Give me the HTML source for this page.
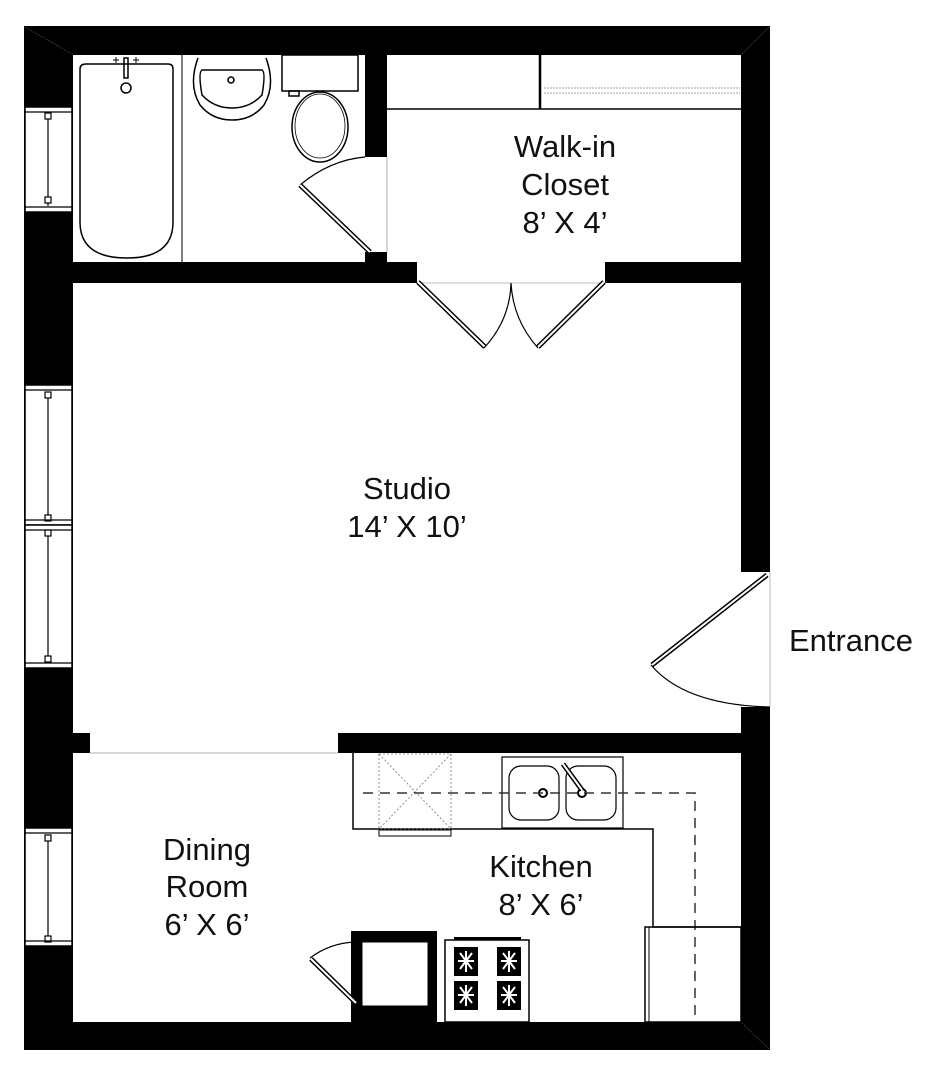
<!DOCTYPE html>
<html><head><meta charset="utf-8"><style>
html,body{margin:0;padding:0;background:#fff;}
svg{display:block;}
text{font-family:"Liberation Sans",Arial,sans-serif;font-size:31px;fill:#111;text-anchor:middle;}
</style></head><body>
<svg width="934" height="1080" viewBox="0 0 934 1080" xmlns="http://www.w3.org/2000/svg">
<rect width="934" height="1080" fill="#fff"/>
<g fill="#000">
<rect x="24" y="26" width="746" height="29"/>
<rect x="24" y="1022" width="746" height="28"/>
<rect x="24" y="26" width="49" height="1024"/>
<rect x="741" y="26" width="29" height="546"/>
<rect x="741" y="707" width="29" height="343"/>
<rect x="365" y="55" width="22" height="102"/>
<rect x="365" y="252" width="22" height="12"/>
<rect x="73" y="262" width="344" height="21"/>
<rect x="605" y="262" width="136" height="21"/>
<rect x="73" y="733" width="17" height="20"/>
<rect x="338" y="733" width="403" height="20"/>
</g>
<g fill="#fff" stroke="#000" stroke-width="1.5">
<rect x="25" y="107" width="47" height="105"/>
<rect x="25" y="385" width="47" height="140"/>
<rect x="25" y="525" width="47" height="143"/>
<rect x="25" y="828" width="47" height="118"/>
</g>
<g stroke="#000" stroke-width="1.2" fill="#fff">
<line x1="48" y1="113" x2="48" y2="206"/><rect x="45" y="113" width="6" height="6"/><rect x="45" y="197" width="6" height="6"/>
<line x1="25" y1="112" x2="72" y2="112"/><line x1="25" y1="207" x2="72" y2="207"/>
<line x1="48" y1="392" x2="48" y2="518"/><rect x="45" y="392" width="6" height="6"/><rect x="45" y="515" width="6" height="6"/>
<line x1="48" y1="532" x2="48" y2="661"/><rect x="45" y="530" width="6" height="6"/><rect x="45" y="656" width="6" height="6"/>
<line x1="25" y1="390" x2="72" y2="390"/><line x1="25" y1="520" x2="72" y2="520"/><line x1="25" y1="530" x2="72" y2="530"/><line x1="25" y1="663" x2="72" y2="663"/>
<line x1="48" y1="835" x2="48" y2="940"/><rect x="45" y="835" width="6" height="6"/><rect x="45" y="936" width="6" height="6"/>
<line x1="25" y1="833" x2="72" y2="833"/><line x1="25" y1="941" x2="72" y2="941"/>
</g>
<g stroke="#555" stroke-width="0.6" stroke-dasharray="2,1"><line x1="25" y1="27" x2="72" y2="54"/><line x1="769" y1="27" x2="742" y2="54"/><line x1="769" y1="1049" x2="742" y2="1023"/></g>
<g fill="none" stroke="#000" stroke-width="1.5">
<path d="M86 64 H168 Q173 64 173 69 V222 Q173 258 127 258 Q80 258 80 222 V69 Q80 64 86 64 Z"/>
<circle cx="126" cy="88" r="5"/>
<rect x="124" y="58" width="4" height="20"/>
<path d="M113 60 H119 M116 57 V63 M133 60 H139 M136 57 V63" stroke-width="1"/>
<line x1="182" y1="55" x2="182" y2="262" stroke-width="1"/>
<path d="M198 58 Q188 85 200 105 Q212 120 232 120 Q252 120 264 105 Q276 85 266 58"/>
<path d="M202 70 H262 Q266 72 262 95 Q250 108 232 108 Q214 108 202 95 Q198 72 202 70 Z"/>
<circle cx="231" cy="80" r="3"/>
<rect x="282" y="55" width="76" height="36"/>
<ellipse cx="320" cy="127" rx="28" ry="35"/><ellipse cx="320" cy="126" rx="25" ry="32" stroke-width="0.8"/>
<rect x="289" y="91" width="10" height="5"/>
</g>
<g stroke="#000" fill="none">
<path d="M300 185 Q330 160 365 157" stroke-width="1.2"/>
<line x1="300" y1="185" x2="370" y2="252" stroke-width="5"/><line x1="300" y1="185" x2="370" y2="252" stroke="#fff" stroke-width="2"/>
<line x1="387" y1="157" x2="387" y2="252" stroke="#999" stroke-width="0.8"/>
</g>
<g stroke="#000" fill="none">
<line x1="387" y1="109" x2="741" y2="109" stroke-width="1.5"/>
<line x1="540" y1="55" x2="540" y2="109" stroke-width="2.5"/>
<line x1="544" y1="88" x2="740" y2="88" stroke="#888" stroke-dasharray="2,1" stroke-width="0.8"/>
<line x1="544" y1="93" x2="740" y2="93" stroke="#888" stroke-dasharray="2,1" stroke-width="0.8"/>
<line x1="417" y1="283" x2="605" y2="283" stroke="#aaa" stroke-width="0.8"/>
</g>
<g stroke="#000" fill="none">
<line x1="418" y1="282" x2="485" y2="347" stroke-width="5"/><line x1="418" y1="282" x2="485" y2="347" stroke="#fff" stroke-width="2"/>
<line x1="604" y1="282" x2="538" y2="347" stroke-width="5"/><line x1="604" y1="282" x2="538" y2="347" stroke="#fff" stroke-width="2"/>
<path d="M484 348 Q510 320 511 283 Q513 320 538 348" stroke-width="1.2"/>
</g>
<g stroke="#000" fill="none">
<line x1="767" y1="575" x2="652" y2="665" stroke-width="5"/><line x1="767" y1="575" x2="652" y2="665" stroke="#fff" stroke-width="2"/>
<path d="M651 665 Q685 705 770 707" stroke-width="1.2"/>
<line x1="770" y1="572" x2="770" y2="707" stroke="#aaa" stroke-width="0.8"/>
</g>
<line x1="90" y1="753" x2="338" y2="753" stroke="#999" stroke-width="0.8"/>
<g fill="none" stroke="#000" stroke-width="1.5">
<path d="M353 753 V829 H653 V927 H741"/>
<rect x="379" y="754" width="72" height="75" stroke="#777" stroke-width="0.8" stroke-dasharray="2,2"/>
<line x1="379" y1="754" x2="451" y2="829" stroke="#777" stroke-width="0.8" stroke-dasharray="2,2"/>
<line x1="451" y1="754" x2="379" y2="829" stroke="#777" stroke-width="0.8" stroke-dasharray="2,2"/>
<rect x="379" y="830" width="72" height="6" stroke-width="1"/>
<rect x="502" y="757" width="121" height="71" stroke-width="1.2"/>
<rect x="509" y="766" width="50" height="54" rx="12" stroke-width="1.2"/>
<rect x="566" y="766" width="50" height="54" rx="12" stroke-width="1.2"/>
<circle cx="543" cy="793" r="4" stroke-width="2"/><circle cx="582" cy="793" r="4" stroke-width="2"/>
<line x1="563" y1="764" x2="582" y2="790" stroke-width="5"/><line x1="563" y1="764" x2="582" y2="790" stroke="#fff" stroke-width="2"/>
<path d="M363 793 H695 V1022" stroke="#333" stroke-width="1.5" stroke-dasharray="10,7"/>
<rect x="645" y="927" width="96" height="95" stroke-width="1.5"/>
<line x1="649" y1="927" x2="649" y2="1022" stroke-width="1"/>
</g>
<g>
<rect x="445" y="940" width="84" height="82" fill="#fff" stroke="#000" stroke-width="1.5"/>
<rect x="454" y="937" width="67" height="3" fill="#000"/>
<g fill="#000">
<rect x="454" y="947" width="24" height="29"/><rect x="497" y="947" width="24" height="29"/>
<rect x="454" y="981" width="24" height="29"/><rect x="497" y="981" width="24" height="29"/>
</g>
<g fill="none" stroke="#fff" stroke-width="2">
<path d="M458 961 H474 M466 951 V972 M460 953 L472 969 M472 953 L460 969"/>
<path d="M501 961 H517 M509 951 V972 M503 953 L515 969 M515 953 L503 969"/>
<path d="M458 995 H474 M466 985 V1006 M460 987 L472 1003 M472 987 L460 1003"/>
<path d="M501 995 H517 M509 985 V1006 M503 987 L515 1003 M515 987 L503 1003"/>
</g>
</g>
<rect x="351" y="931" width="86" height="91" fill="#000"/>
<rect x="362" y="942" width="66" height="64" fill="#fff" stroke="#000"/>
<g stroke="#000" fill="none">
<line x1="356" y1="1003" x2="311" y2="959" stroke-width="5"/><line x1="356" y1="1003" x2="311" y2="959" stroke="#fff" stroke-width="2"/>
<path d="M310 958 Q330 943 355 942" stroke-width="1.2"/>
</g>
<text x="565" y="157">Walk-in</text>
<text x="565" y="195">Closet</text>
<text x="565" y="233">8’ X 4’</text>
<text x="407" y="499">Studio</text>
<text x="407" y="537">14’ X 10’</text>
<text x="851" y="651">Entrance</text>
<text x="207" y="860">Dining</text>
<text x="207" y="897">Room</text>
<text x="207" y="935">6’ X 6’</text>
<text x="541" y="877">Kitchen</text>
<text x="541" y="915">8’ X 6’</text>
</svg>
</body></html>
